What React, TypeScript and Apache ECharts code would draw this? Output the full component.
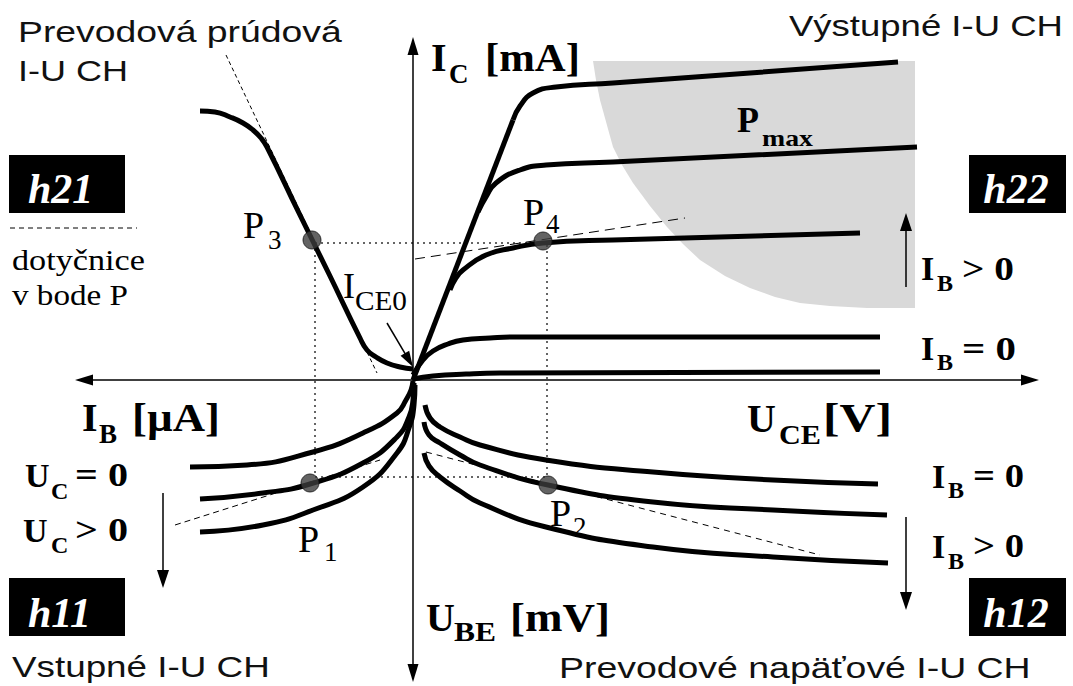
import React, { useEffect, useRef } from "react";
import * as echarts from "echarts";

// Chart units: origin where the two axes cross, X to the right, Y upwards.
const X_MIN = -413;
const X_MAX = 660;
const Y_MIN = -306;
const Y_MAX = 380;

// Axes (double-headed)
const AXES = [
  [-338, 0, 626, 0],
  [0, -302, 0, 343],
];
// Small single-headed arrows: I_CE0 pointer, I_B up, I_B down, U_C down
const POINTER_ARROW = [[-26, 57, 0, 13]];
const TREND_ARROWS = [
  [493, 93, 493, 167],
  [493, -137, 493, -230],
  [-250, -113, -250, -208],
];

// Quadrant I – output characteristics I_C(U_CE)
const OUT_SAT_LINE = [[0, 0], [100, 260]];
const OUT_IB_HIGH = [[100, 260], [107, 274], [120, 287], [143, 293], [200, 297], [337, 307], [485, 318]];
const OUT_IB_MID = [[65, 168], [73, 183], [83, 197], [107, 210], [133, 215], [200, 218], [504, 233]];
const OUT_IB_LOW = [[37, 90], [43, 102], [50, 110], [73, 125], [100, 132], [130, 137], [200, 140], [447, 147]];
const OUT_IB_ZERO_A = [[0, 5], [10, 20], [20, 29], [35, 36], [50, 40], [77, 42], [100, 43], [467, 43]];
const OUT_IB_ZERO_B = [[0, 1], [20, 4], [53, 6], [87, 7], [467, 8]];
const PMAX_REGION = [
  [180, 319], [183, 300], [187, 280], [200, 233], [209, 215], [220, 197], [237, 174], [254, 153],
  [270, 136], [287, 120], [312, 104], [337, 92], [362, 83], [387, 77], [417, 74], [454, 72],
  [502, 72], [502, 319],
];

// Quadrant II – current transfer characteristic I_C(I_B)
const TRANSFER = [
  [-213, 269], [-198, 268], [-183, 263], [-170, 257], [-160, 250], [-152, 242], [-146, 233],
  [-115, 169], [-84, 106], [-53, 42], [-46, 30], [-37, 23], [-26, 17], [-13, 13], [0, 11],
];

// Quadrant III – input characteristics U_BE(I_B)
const IN_UC_ZERO = [[-223, -87], [-166, -85], [-100, -72], [-50, -53], [-16, -33], [-7, -20], [-2, -10], [0, -1]];
const IN_UC_MID = [[-213, -119], [-150, -113], [-103, -104], [-50, -83], [-16, -57], [-4, -37], [0, -20], [1, -3]];
const IN_UC_HIGH = [[-213, -152], [-150, -145], [-100, -130], [-50, -107], [-16, -73], [-4, -48], [1, -25], [2, -5]];

// Quadrant IV – voltage feedback characteristics U_BE(U_CE)
const FB_IB_ZERO = [[12, -25], [17, -38], [27, -47], [47, -57], [67, -65], [133, -80], [240, -92], [360, -100], [465, -104]];
const FB_IB_MID = [[11, -42], [16, -55], [27, -63], [47, -75], [67, -85], [135, -105], [240, -122], [360, -130], [474, -135]];
const FB_IB_HIGH = [[11, -73], [16, -86], [27, -97], [47, -111], [67, -123], [133, -147], [240, -167], [360, -177], [475, -183]];

// Operating points P3, P4, P1, P2
const OPERATING_POINTS = [[-101, 140], [130, 139], [-103, -103], [135, -105]];
const PROJECTION_BOX = [[-98, 137], [134, 137], [134, -97], [-98, -97], [-98, 137]];

// Tangents at the operating points
const TANGENT_P3 = [[-187, 325], [-36, 7]];
const TANGENT_P4 = [[2, 121], [272, 162]];
const TANGENT_P1 = [[-238, -145], [-33, -80]];
const TANGENT_P2 = [[13, -72], [407, -175]];

const SANS = "'Liberation Sans', Arial, sans-serif";
const SERIF = "'Liberation Serif', 'Times New Roman', serif";

let measureCtx: any = null;
function fitScale(text: string, size: number, family: string, weight: string, style: string, width: number) {
  if (!measureCtx) measureCtx = document.createElement("canvas").getContext("2d");
  measureCtx.font = `${style} ${weight} ${size}px ${family}`;
  const w = measureCtx.measureText(text).width;
  return w > 0 ? width / w : 1;
}

type T = {
  t: string; x: number; y: number; size: number; family?: string; weight?: string; fstyle?: string;
  fill?: string; fit?: number; align?: string; z?: number;
};

function textEl(o: T) {
  const family = o.family || SERIF;
  const weight = o.weight || "normal";
  const fstyle = o.fstyle || "normal";
  const scaleX = o.fit ? fitScale(o.t, o.size, family, weight, fstyle, o.fit) : 1;
  return {
    type: "text",
    x: o.x,
    y: o.y,
    scaleX,
    z: o.z ?? 5,
    silent: true,
    style: {
      text: o.t,
      fontSize: o.size,
      fontFamily: family,
      fontWeight: weight,
      fontStyle: fstyle,
      fill: o.fill || "#000",
      align: o.align || "left",
      verticalAlign: "middle",
    },
  };
}

function buildTexts() {
  const sans = (t: string, x: number, y: number, fit: number): T => ({ t, x, y, size: 29, family: SANS, fill: "#111", fit });
  const bold = (t: string, x: number, y: number, size: number, fit?: number): T => ({ t, x, y, size, weight: "bold", fit });
  const reg = (t: string, x: number, y: number, size: number, fit?: number): T => ({ t, x, y, size, fit });
  const list: T[] = [
    sans("Prevodová prúdová", 18, 32, 324),
    sans("I-U CH", 18, 71, 110),
    sans("Výstupné I-U CH", 789, 26, 274),
    sans("Vstupné I-U CH", 12, 667, 258),
    sans("Prevodové napäťové I-U CH", 559, 668, 472),

    bold("I", 431, 57, 40), bold("C", 449, 74, 27), bold("[mA]", 485, 57, 40, 95),
    bold("I", 82, 417, 40), bold("B", 99, 434, 27), bold("[µA]", 132, 417, 40, 88),
    bold("U", 747, 418, 40), bold("CE", 779, 435, 27, 42), bold("[V]", 823, 418, 40, 69),
    bold("U", 426, 617, 40), bold("BE", 454, 632, 27, 42), bold("[mV]", 510, 617, 40, 100),

    bold("I", 921, 268, 34), bold("B", 937, 283, 24), bold("> 0", 962, 268, 34, 52),
    bold("I", 921, 348, 34), bold("B", 937, 362, 24), bold("= 0", 962, 348, 34, 54),
    bold("I", 932, 476, 34), bold("B", 948, 490, 24), bold("= 0", 973, 476, 34, 51),
    bold("I", 932, 546, 34), bold("B", 948, 561, 24), bold("> 0", 973, 546, 34, 51),
    bold("U", 25, 475, 34), bold("C", 51, 491, 24), bold("= 0", 75, 475, 34, 53),
    bold("U", 23, 530, 34), bold("C", 51, 545, 24), bold("> 0", 75, 530, 34, 53),
    bold("P", 737, 120, 36), bold("max", 762, 138, 24, 51),

    reg("P", 243, 225, 38), reg("3", 268, 240, 27),
    reg("P", 523, 212, 38), reg("4", 546, 224, 27),
    reg("P", 298, 539, 38), reg("1", 324, 552, 27),
    { ...reg("P", 550, 513, 38), z: 1 }, { ...reg("2", 573, 527, 27), z: 1 },
    reg("I", 343, 286, 36), reg("CE0", 355, 300, 28, 52),
    reg("dotyčnice", 12, 260, 30, 133),
    reg("v bode P", 12, 295, 30, 116),
  ];
  const els: any[] = list.map(textEl);
  const boxes = [
    [9, 155, 116, 58, "h21", 28, 189, "left"],
    [9, 578, 116, 58, "h11", 28, 613, "left"],
    [969, 155, 97, 58, "h22", 1016, 189, "center"],
    [969, 578, 97, 58, "h12", 1016, 613, "center"],
  ] as any[];
  boxes.forEach((b) => {
    els.push({ type: "rect", z: 5, silent: true, shape: { x: b[0], y: b[1], width: b[2], height: b[3] }, style: { fill: "#000" } });
    els.push(textEl({ t: b[4], x: b[5], y: b[6], size: 42, weight: "bold", fstyle: "italic", fill: "#fff", align: b[7], z: 6 }));
  });
  els.push({
    type: "line", z: 5, silent: true,
    shape: { x1: 10, y1: 228, x2: 137, y2: 228 },
    style: { stroke: "#000", lineWidth: 1, lineDash: [5, 4] },
  });
  return els;
}

function curve(data: number[][], width = 5) {
  return {
    type: "line", data, smooth: 0.5, symbol: "none", silent: true, z: 3,
    lineStyle: { color: "#000", width, cap: "butt", join: "round" },
  };
}
function straight(data: number[][], width = 5) {
  return { type: "line", data, smooth: false, symbol: "none", silent: true, z: 3, lineStyle: { color: "#000", width } };
}
function dashed(data: number[][], dash: number[]) {
  return { type: "line", data, symbol: "none", silent: true, z: 2, lineStyle: { color: "#000", width: 1, type: dash } };
}

function arrowSeries(segs: number[][], len: number, hw: number, both: boolean) {
  return {
    type: "custom",
    coordinateSystem: "cartesian2d",
    silent: true,
    clip: false,
    z: 4,
    data: segs,
    renderItem: (_p: any, api: any) => {
      const a = api.coord([api.value(0), api.value(1)]);
      const b = api.coord([api.value(2), api.value(3)]);
      const dx = b[0] - a[0];
      const dy = b[1] - a[1];
      const L = Math.hypot(dx, dy) || 1;
      const ux = dx / L;
      const uy = dy / L;
      const nx = -uy;
      const ny = ux;
      const head = (tip: number[], ex: number, ey: number) => ({
        type: "polygon",
        shape: {
          points: [
            [tip[0], tip[1]],
            [tip[0] - ex * len + nx * hw, tip[1] - ey * len + ny * hw],
            [tip[0] - ex * len - nx * hw, tip[1] - ey * len - ny * hw],
          ],
        },
        style: { fill: "#000" },
      });
      const s = both ? [a[0] + ux * len * 0.7, a[1] + uy * len * 0.7] : a;
      const e = [b[0] - ux * len * 0.7, b[1] - uy * len * 0.7];
      const children: any[] = [
        { type: "line", shape: { x1: s[0], y1: s[1], x2: e[0], y2: e[1] }, style: { stroke: "#000", lineWidth: 1.5 } },
        head(b, ux, uy),
      ];
      if (both) children.push(head(a, -ux, -uy));
      return { type: "group", children };
    },
  };
}

export default function App() {
  const ref = useRef<HTMLDivElement>(null);
  useEffect(() => {
    document.body.style.margin = "0";
    if (!ref.current) return;
    const chart = echarts.init(ref.current, undefined, { renderer: "svg" });
    chart.setOption({
      animation: false,
      backgroundColor: "#fff",
      grid: { left: 0, right: 0, top: 0, bottom: 0 },
      xAxis: { type: "value", min: X_MIN, max: X_MAX, show: false },
      yAxis: { type: "value", min: Y_MIN, max: Y_MAX, show: false },
      series: [
        {
          type: "custom",
          coordinateSystem: "cartesian2d",
          silent: true,
          z: 1,
          data: [[0, 0]],
          renderItem: (_p: any, api: any) => ({
            type: "polygon",
            shape: { points: PMAX_REGION.map((pt) => api.coord(pt)) },
            style: { fill: "#d9d9d9" },
          }),
        },
        arrowSeries(AXES, 18, 5.5, true),
        arrowSeries(POINTER_ARROW, 16, 5, false),
        arrowSeries(TREND_ARROWS, 18, 6, false),
        {
          type: "line", data: PROJECTION_BOX, symbol: "none", silent: true, z: 2,
          lineStyle: { color: "#333", width: 1.5, type: [2, 4] },
        },
        dashed(TANGENT_P3, [4, 3]),
        dashed(TANGENT_P4, [10, 6]),
        dashed(TANGENT_P1, [6, 4]),
        dashed(TANGENT_P2, [6, 5]),
        straight(OUT_SAT_LINE),
        curve(OUT_IB_HIGH),
        curve(OUT_IB_MID),
        curve(OUT_IB_LOW),
        curve(OUT_IB_ZERO_A),
        curve(OUT_IB_ZERO_B),
        curve(TRANSFER),
        curve(IN_UC_ZERO),
        curve(IN_UC_MID),
        curve(IN_UC_HIGH),
        curve(FB_IB_ZERO),
        curve(FB_IB_MID),
        curve(FB_IB_HIGH),
        {
          type: "scatter", data: OPERATING_POINTS, symbol: "circle", symbolSize: 18, silent: true, z: 6,
          itemStyle: { color: "#3c3c3c", borderColor: "#111", borderWidth: 1 },
        },
      ],
      graphic: { elements: buildTexts() },
    });
    return () => chart.dispose();
  }, []);
  return <div ref={ref} style={{ width: 1073, height: 686 }} />;
}
